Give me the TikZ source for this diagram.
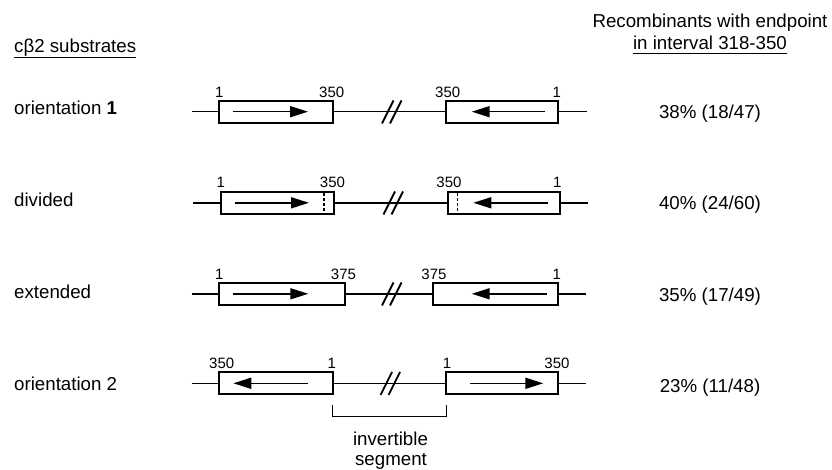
\documentclass[tikz,border=0pt]{standalone}
\usepackage{fontspec}
\setmainfont{Liberation Sans}
\usetikzlibrary{arrows.meta}
\begin{document}
\begin{tikzpicture}[x=1pt,y=-1pt,
  lbl/.style={font=\fontsize{18.7}{21}\selectfont, inner sep=0pt},
  num/.style={font=\fontsize{15}{17}\selectfont, inner sep=0pt, anchor=base},
  gene/.style={draw, line width=2pt, minimum height=22pt, inner sep=0pt, fill=white},
  dna/.style={line width=1.5pt},
  arr/.style={line width=1.6pt, -{Triangle[length=18pt,width=11pt]}},
  brk/.style={line width=1.8pt},
  cut/.style={line width=1.5pt, dash pattern=on 3pt off 2.2pt},
  uline/.style={line width=1.2pt},
]
\useasboundingbox (0,0) rectangle (832,470);

% ---------- headers ----------
\node[lbl, anchor=base west] (ttl) at (14,53) {cβ2 substrates};
\draw[uline] ([yshift=-4.3pt]ttl.base west) -- ([yshift=-4.3pt]ttl.base east);

\node[lbl, anchor=base] (hd1) at (710,28) {Recombinants with endpoint};
\node[lbl, anchor=base] (hd2) at (710,50) {in interval 318-350};
\draw[uline] ([yshift=-3.5pt]hd2.base west) -- ([yshift=-3.5pt]hd2.base east);

% ---------- row labels ----------
\node[lbl, anchor=base west] (l1) at (14,115) {orientation \textbf{1}};
\node[lbl, anchor=base west] (l2) at (14,206.7) {divided};
\node[lbl, anchor=base west] (l3) at (14,298.3) {extended};
\node[lbl, anchor=base west] (l4) at (14,390) {orientation 2};

% ---------- percentages ----------
\node[lbl, anchor=base] (p1) at (710,118.3) {38\% (18/47)};
\node[lbl, anchor=base] (p2) at (710,210) {40\% (24/60)};
\node[lbl, anchor=base] (p3) at (710,301.7) {35\% (17/49)};
\node[lbl, anchor=base] (p4) at (710,392.7) {23\% (11/48)};

% ---------- row 1: orientation 1 ----------
\coordinate (r1s) at (192,111.7);
\coordinate (r1e) at (587,111.7);
\node[gene, minimum width=113.4pt] (r1a) at (276,111.7) {};
\node[gene, minimum width=112.6pt] (r1b) at (502,111.7) {};
\draw[dna] (r1s) -- (r1a.west);
\draw[dna] (r1a.east) -- (r1b.west);
\draw[dna] (r1b.east) -- (r1e);
\draw[brk] (382,123.5) -- (393.5,100.5);
\draw[brk] (390,123.5) -- (401.5,100.5);
\draw[arr] (233,111.7) -- (308,111.7);
\draw[arr] (545,111.7) -- (471.7,111.7);
\node[num] (n1a) at (219.3,97.3) {1};
\node[num] (n1b) at (331.7,97.3) {350};
\node[num] (n1c) at (447.7,97.3) {350};
\node[num] (n1d) at (556.7,97.3) {1};

% ---------- row 2: divided ----------
\coordinate (r2s) at (193.3,202.8);
\coordinate (r2e) at (588,202.8);
\node[gene, minimum width=113.3pt] (r2a) at (277.35,202.8) {};
\node[gene, minimum width=112.3pt] (r2b) at (503.85,202.8) {};
\draw[dna] (r2s) -- (r2a.west);
\draw[dna] (r2a.east) -- (r2b.west);
\draw[dna] (r2b.east) -- (r2e);
\draw[brk] (383.5,214.5) -- (395,191.5);
\draw[brk] (391.5,214.5) -- (403,191.5);
\draw[cut] (324,192.8) -- (324,213.8);
\draw[cut] (457.7,192.8) -- (457.7,213.8);
\draw[arr] (235,202.8) -- (309,202.8);
\draw[arr] (548.3,202.8) -- (473.3,202.8);
\node[num] (n2a) at (220.7,187.3) {1};
\node[num] (n2b) at (332.5,187.3) {350};
\node[num] (n2c) at (449,187.3) {350};
\node[num] (n2d) at (557.3,187.3) {1};

% ---------- row 3: extended ----------
\coordinate (r3s) at (191.7,293.8);
\coordinate (r3e) at (586.3,293.8);
\node[gene, minimum width=125.7pt] (r3a) at (282.15,293.8) {};
\node[gene, minimum width=125pt] (r3b) at (495.2,293.8) {};
\draw[dna] (r3s) -- (r3a.west);
\draw[dna] (r3a.east) -- (r3b.west);
\draw[dna] (r3b.east) -- (r3e);
\draw[brk] (382,305.5) -- (393.5,282.5);
\draw[brk] (390,305.5) -- (401.5,282.5);
\draw[arr] (233.3,293.8) -- (308.3,293.8);
\draw[arr] (546.7,293.8) -- (471.7,293.8);
\node[num] (n3a) at (219.3,279.3) {1};
\node[num] (n3b) at (343.5,279.3) {375};
\node[num] (n3c) at (434,279.3) {375};
\node[num] (n3d) at (556.7,279.3) {1};

% ---------- row 4: orientation 2 ----------
\coordinate (r4s) at (191.7,383.3);
\coordinate (r4e) at (586.3,383.3);
\node[gene, minimum width=113.4pt] (r4a) at (276,383.3) {};
\node[gene, minimum width=112.6pt] (r4b) at (502,383.3) {};
\draw[dna] (r4s) -- (r4a.west);
\draw[dna] (r4a.east) -- (r4b.west);
\draw[dna] (r4b.east) -- (r4e);
\draw[brk] (380.5,395) -- (392,372);
\draw[brk] (388.5,395) -- (400,372);
\draw[arr] (308.3,383.3) -- (233.3,383.3);
\draw[arr] (470,383.3) -- (543.3,383.3);
\node[num] (n4a) at (221.7,368.3) {350};
\node[num] (n4b) at (331.7,368.3) {1};
\node[num] (n4c) at (447,368.3) {1};
\node[num] (n4d) at (557,368.3) {350};

% ---------- invertible segment bracket ----------
\coordinate (bk1) at (332.7,405);
\coordinate (bk2) at (446.7,405);
\draw[line width=1.5pt] (bk1) -- ++(0,11.7) -| (bk2);
\node[lbl, anchor=base] (inv1) at (390.5,445) {invertible};
\node[lbl, anchor=base] (inv2) at (391,465.5) {segment};
\end{tikzpicture}
\end{document}
